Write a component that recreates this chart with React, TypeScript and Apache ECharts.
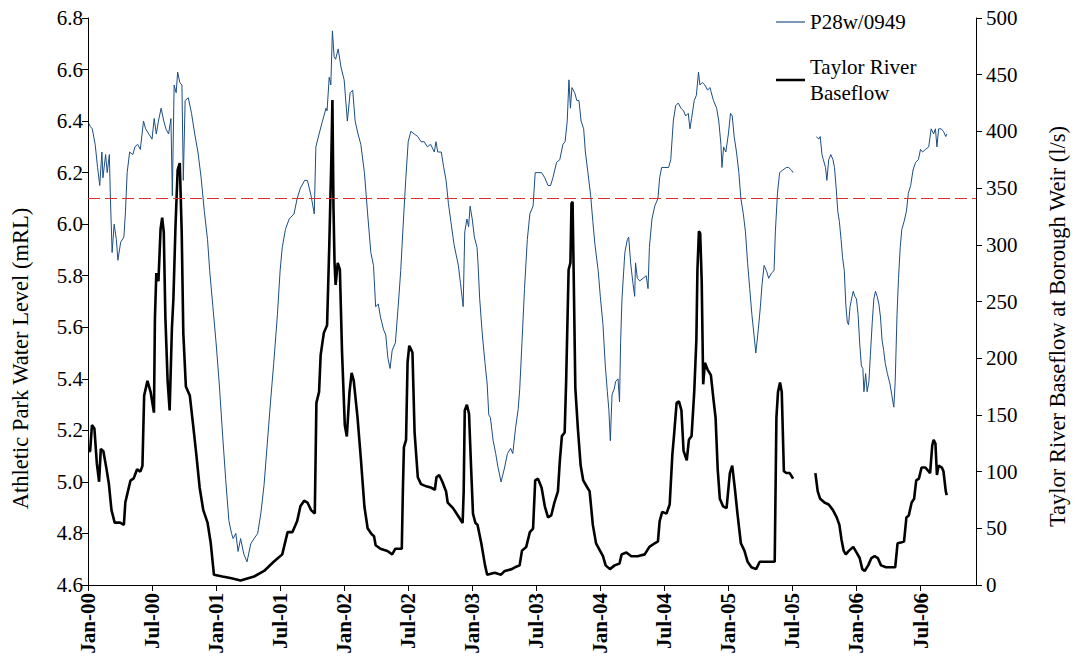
import React, { useEffect, useRef } from "react";
import * as echarts from "echarts";

// Time is expressed in months since Jan 2000; null marks a break in the record.
const xTickLabels = [
  "Jan-00", "Jul-00", "Jan-01", "Jul-01", "Jan-02", "Jul-02", "Jan-03",
  "Jul-03", "Jan-04", "Jul-04", "Jan-05", "Jul-05", "Jan-06", "Jul-06",
];

const levelMonths = [
  0.1, 0.2, 0.4, 0.67, 0.9, 1.1, 1.3, 1.4, 1.65, 1.8, 2.0, 2.1, 2.26, 2.45, 2.66, 2.8, 3.06, 3.36, 3.5, 3.67,
  3.9, 4.2, 4.4, 4.65, 4.9, 5.2, 5.4, 5.7, 6.0, 6.2, 6.4, 6.6, 6.85, 7.1, 7.3, 7.55, 7.77, 7.9, 8.07, 8.26,
  8.4, 8.6, 8.8, 8.93, 9.1, 9.4, 9.7, 10.0, 10.3, 10.6, 10.9, 11.2, 11.4, 11.7, 12.0, 12.3, 12.6, 12.9, 13.2, 13.45,
  13.6, 13.85, 14.06, 14.3, 14.6, 14.9, 15.25, 15.56, 15.9, 16.2, 16.5, 16.8, 17.1, 17.4, 17.75, 18.0, 18.2, 18.5, 18.85, 19.3,
  19.6, 19.9, 20.3, 20.56, 20.9, 21.2, 21.35, 21.65, 21.97, 22.3, 22.4, 22.6, 22.75, 22.9, 23.06, 23.2, 23.44, 23.7, 24.0, 24.3,
  24.56, 24.8, 25.03, 25.3, 25.56, 25.9, 26.2, 26.5, 26.75, 26.95, 27.2, 27.4, 27.7, 27.9, 28.1, 28.3, 28.5, 28.8, 29.06, 29.3,
  29.56, 29.78, 30.0, 30.25, 30.57, 30.9, 31.2, 31.5, 31.8, 32.1, 32.45, 32.6, 32.77, 33.1, 33.33, 33.55, 33.77, 34.0, 34.3, 34.5,
  34.7, 34.9, 35.15, 35.3, 35.5, 35.66, 35.8, 36.0, 36.2, 36.45, 36.54, 36.7, 36.95, 37.2, 37.4, 37.55, 37.7, 37.96, 38.2, 38.4,
  38.7, 39.0, 39.3, 39.6, 39.8, 40.06, 40.3, 40.45, 40.66, 40.9, 41.16, 41.4, 41.7, 41.9, 42.16, 42.5, 42.8, 43.1, 43.34, 43.56,
  43.9, 44.2, 44.5, 44.7, 44.9, 45.06, 45.2, 45.34, 45.6, 45.8, 46.0, 46.2, 46.44, 46.6, 46.84, 47.1, 47.3, 47.5, 47.8, 48.0,
  48.25, 48.47, 48.66, 48.8, 48.94, 49.1, 49.3, 49.44, 49.66, 49.8, 49.9, 50.03, 50.3, 50.53, 50.66, 50.84, 51.06, 51.22, 51.3, 51.47,
  51.7, 52.0, 52.3, 52.47, 52.6, 52.84, 53.1, 53.4, 53.56, 53.75, 54.06, 54.4, 54.6, 54.84, 55.06, 55.3, 55.56, 55.8, 56.0, 56.24,
  56.4, 56.55, 56.8, 57.0, 57.2, 57.33, 57.55, 57.8, 58.05, 58.27, 58.6, 58.9, 59.1, 59.3, 59.4, 59.55, 59.76, 60.0, 60.2, 60.36,
  60.54, 60.76, 60.98, 61.17, 61.4, 61.6, 61.8, 62.0, 62.2, 62.4, 62.57, 62.8, 63.0, 63.16, 63.35, 63.56, 63.78, 64.03, 64.28, 64.4,
  64.6, 64.8, 65.1, 65.43, 65.65, 65.9, 66.06, 67.0, 68.25, 68.46, 68.6, 68.77, 68.9, 69.1, 69.23, 69.4, 69.6, 69.8, 69.94, 70.1,
  70.25, 70.4, 70.56, 70.7, 70.86, 71.0, 71.14, 71.26, 71.4, 71.54, 71.7, 71.85, 72.0, 72.15, 72.3, 72.46, 72.6, 72.7, 72.86, 73.0,
  73.17, 73.3, 73.48, 73.63, 73.78, 73.94, 74.1, 74.25, 74.4, 74.55, 74.7, 74.9, 75.14, 75.3, 75.5, 75.63, 75.8, 75.94, 76.1, 76.25,
  76.46, 76.68, 76.86, 77.08, 77.3, 77.54, 77.8, 78.0, 78.2, 78.46, 78.77, 79.0, 79.23, 79.4, 79.54, 79.7, 79.94, 80.15, 80.37, 80.46,
];

const levelValues = [
  6.39, 6.38, 6.37, 6.31, 6.22, 6.15, 6.28, 6.18, 6.27, 6.2, 6.27, 6.1, 5.89, 6.0, 5.94, 5.86, 5.93, 5.95, 6.04, 6.2,
  6.28, 6.27, 6.3, 6.31, 6.29, 6.4, 6.37, 6.35, 6.33, 6.41, 6.35, 6.4, 6.45, 6.4, 6.37, 6.35, 6.41, 6.11, 6.54, 6.51,
  6.59, 6.55, 6.54, 6.17, 6.48, 6.49, 6.43, 6.35, 6.28, 6.18, 6.05, 5.94, 5.82, 5.68, 5.54, 5.38, 5.19, 5.01, 4.85, 4.8,
  4.78, 4.8, 4.73, 4.78, 4.72, 4.69, 4.76, 4.78, 4.8, 4.88, 4.99, 5.15, 5.31, 5.46, 5.65, 5.82, 5.91, 5.98, 6.02, 6.04,
  6.1, 6.14, 6.17, 6.17, 6.11, 6.04, 6.3, 6.35, 6.4, 6.45, 6.44, 6.57, 6.54, 6.75, 6.65, 6.64, 6.68, 6.61, 6.56, 6.4,
  6.51, 6.52, 6.4, 6.35, 6.31, 6.2, 6.04, 5.89, 5.84, 5.68, 5.69, 5.64, 5.59, 5.57, 5.48, 5.44, 5.51, 5.54, 5.68, 5.82,
  6.02, 6.18, 6.32, 6.36, 6.35, 6.34, 6.32, 6.32, 6.3, 6.31, 6.28, 6.32, 6.28, 6.28, 6.22, 6.17, 6.08, 6.01, 5.92, 5.88,
  5.84, 5.77, 5.68, 5.97, 6.02, 5.99, 6.07, 6.02, 5.95, 5.91, 5.85, 5.71, 5.57, 5.46, 5.38, 5.26, 5.25, 5.16, 5.11, 5.06,
  5.0, 5.05, 5.11, 5.13, 5.11, 5.21, 5.28, 5.36, 5.54, 5.75, 5.94, 6.04, 6.07, 6.2, 6.2, 6.2, 6.18, 6.15, 6.15, 6.18,
  6.24, 6.25, 6.31, 6.32, 6.4, 6.56, 6.45, 6.53, 6.51, 6.48, 6.48, 6.4, 6.37, 6.28, 6.2, 6.11, 6.01, 5.92, 5.82, 5.72,
  5.61, 5.45, 5.35, 5.28, 5.16, 5.34, 5.36, 5.39, 5.4, 5.31, 5.54, 5.71, 5.89, 5.94, 5.95, 5.85, 5.77, 5.72, 5.85, 5.79,
  5.78, 5.79, 5.8, 5.75, 5.91, 6.02, 6.07, 6.1, 6.18, 6.22, 6.22, 6.22, 6.25, 6.4, 6.46, 6.47, 6.45, 6.44, 6.42, 6.43,
  6.37, 6.41, 6.48, 6.5, 6.59, 6.54, 6.55, 6.54, 6.52, 6.53, 6.48, 6.45, 6.4, 6.31, 6.22, 6.3, 6.28, 6.35, 6.43, 6.42,
  6.34, 6.28, 6.2, 6.1, 6.04, 5.97, 5.85, 5.75, 5.65, 5.57, 5.5, 5.59, 5.68, 5.77, 5.84, 5.82, 5.79, 5.81, 5.82, 5.97,
  6.12, 6.2, 6.21, 6.22, 6.22, 6.21, 6.2, null, 6.34, 6.33, 6.34, 6.27, 6.25, 6.22, 6.17, 6.25, 6.27, 6.25, 6.22, 6.14,
  6.05, 6.01, 5.94, 5.87, 5.82, 5.69, 5.62, 5.61, 5.68, 5.71, 5.74, 5.72, 5.71, 5.65, 5.54, 5.45, 5.44, 5.35, 5.42, 5.35,
  5.39, 5.49, 5.62, 5.71, 5.74, 5.72, 5.69, 5.64, 5.55, 5.51, 5.46, 5.42, 5.38, 5.34, 5.29, 5.39, 5.65, 5.79, 5.91, 5.98,
  6.01, 6.05, 6.12, 6.15, 6.21, 6.24, 6.25, 6.29, 6.28, 6.29, 6.3, 6.37, 6.35, 6.37, 6.3, 6.37, 6.37, 6.36, 6.34, 6.35,
];

const flowMonths = [
  0.1, 0.2, 0.37, 0.6, 0.83, 1.04, 1.2, 1.44, 1.74, 1.96, 2.2, 2.5, 3.0, 3.36, 3.5, 3.7, 3.98, 4.28, 4.6, 4.9,
  5.1, 5.26, 5.57, 5.87, 6.18, 6.27, 6.4, 6.6, 6.8, 6.95, 7.1, 7.25, 7.46, 7.65, 7.86, 8.0, 8.2, 8.4, 8.6, 8.78,
  8.93, 9.17, 9.54, 9.85, 10.15, 10.46, 10.8, 11.2, 11.5, 11.8, 12.6, 13.45, 14.3, 15.56, 16.5, 17.4, 18.2, 18.7, 19.15, 19.6,
  19.9, 20.25, 20.56, 20.9, 21.25, 21.4, 21.65, 21.8, 22.1, 22.4, 22.6, 22.8, 22.9, 23.0, 23.1, 23.2, 23.4, 23.6, 23.8, 24.06,
  24.25, 24.5, 24.7, 24.9, 25.25, 25.56, 25.9, 26.2, 26.56, 26.8, 26.95, 27.4, 28.05, 28.5, 28.8, 29.4, 29.5, 29.6, 29.8, 29.94,
  30.1, 30.25, 30.4, 30.6, 30.9, 31.2, 31.7, 32.1, 32.5, 32.65, 32.9, 33.2, 33.55, 33.7, 34.2, 34.65, 35.1, 35.2, 35.3, 35.5,
  35.7, 35.9, 36.07, 36.3, 36.5, 36.85, 37.2, 37.4, 38.1, 38.7, 39.05, 39.7, 40.0, 40.44, 40.66, 41.06, 41.4, 41.7, 41.9, 42.16,
  42.5, 42.8, 43.1, 43.4, 43.7, 44.03, 44.2, 44.4, 44.66, 44.8, 45.03, 45.2, 45.3, 45.4, 45.5, 45.66, 45.9, 46.16, 46.4, 46.7,
  47.0, 47.3, 47.6, 47.97, 48.25, 48.5, 48.9, 49.34, 49.8, 50.0, 50.44, 50.9, 51.5, 52.16, 52.6, 53.1, 53.4, 53.56, 53.8, 54.2,
  54.5, 54.75, 54.9, 55.15, 55.37, 55.6, 55.8, 56.1, 56.3, 56.55, 56.8, 57.0, 57.1, 57.24, 57.36, 57.5, 57.64, 57.8, 58.05, 58.36,
  58.6, 58.8, 59.0, 59.2, 59.5, 59.83, 60.14, 60.36, 60.6, 60.85, 61.17, 61.5, 61.8, 62.16, 62.6, 62.94, 64.34, 64.5, 64.65, 64.84,
  65.0, 65.2, 65.43, 65.75, 66.06, 67.0, 68.15, 68.37, 68.6, 69.0, 69.4, 69.8, 70.15, 70.4, 70.6, 70.8, 71.0, 71.3, 71.7, 72.0,
  72.3, 72.55, 72.77, 73.1, 73.4, 73.7, 74.0, 74.3, 74.77, 75.63, 75.85, 76.15, 76.46, 76.68, 76.9, 77.17, 77.4, 77.6, 77.85, 78.1,
  78.46, 78.9, 79.1, 79.23, 79.4, 79.54, 79.7, 80.0, 80.15, 80.37, 80.46,
];

const flowValues = [
  118, 118, 141, 138, 107, 91, 120, 118, 102, 89, 66, 55, 55, 53, 73, 81, 92, 94, 102, 100,
  105, 167, 180, 170, 152, 235, 275, 268, 314, 324, 311, 236, 180, 154, 226, 252, 317, 366, 372, 311,
  222, 175, 167, 141, 115, 86, 66, 55, 37, 9, 7.5, 6, 4, 7.5, 12.4, 20.5, 27, 46.6, 46.6, 56.4,
  69.4, 74.3, 72.7, 66, 63, 160.6, 170.3, 202.9, 222.5, 229, 297, 375.6, 427.7, 333, 284, 264.6, 284, 278, 206, 141,
  131, 170, 187, 180, 148, 112, 69, 50, 45, 43, 35, 32, 30, 27, 32, 32, 82.5, 121.6, 128, 196,
  211, 208, 205, 134.5, 95, 89, 87, 86, 84, 95, 97, 91, 82.5, 72.7, 67.8, 61.3, 54.7, 82.5, 154, 159,
  151, 102, 63, 54.7, 53, 36.8, 17.3, 9.1, 10.8, 9.1, 12.4, 14, 15.6, 17.3, 30.3, 33.6, 46.6, 49.8, 92.2, 93.8,
  85.7, 69.4, 59.6, 61.3, 72.7, 82.5, 108.5, 131.3, 134.5, 180, 278, 284, 336.5, 338, 278, 173.6, 137.8, 105.3, 92.2, 87.3,
  82.5, 53, 36.8, 30.3, 25.4, 17.3, 14, 17.3, 18.9, 27, 28.7, 25.4, 25.4, 27, 33.6, 36.8, 38.4, 56.4, 64.5, 62.9,
  71, 115, 131.3, 160.6, 162, 154, 118.3, 110, 128, 131.3, 170.3, 216, 278, 312, 310, 268, 177, 196, 190, 185,
  164, 147.6, 102, 76, 69.4, 67.8, 98.7, 105.3, 85.7, 63, 36.8, 30.3, 20.5, 15.6, 14, 20.5, 20.5, 147.6, 170.3, 178.5,
  170.3, 100.3, 98.7, 98.7, 93.8, null, 98.7, 82.5, 76, 72.7, 71, 66, 59.6, 53, 40, 30.3, 27, 30.3, 33.6, 28.7,
  23.8, 14, 12.4, 17.3, 23.8, 25.4, 23.8, 17.3, 15.6, 15.6, 36.8, 37.5, 38.4, 59.6, 61.3, 72.7, 76, 92.2, 93.8, 103.6,
  103.6, 98.7, 123, 128, 124.8, 97, 105.3, 103.6, 100.3, 82.5, 79.3,
];

// Trigger level drawn as a dashed reference line on the water-level axis.
const triggerLevel = 6.1;

const FONT = "'Liberation Serif', 'Times New Roman', serif";
const LEVEL_COLOR = "#1c4d85";
const FLOW_COLOR = "#000000";

function pairs(xs: number[], ys: (number | null)[]) {
  return xs.map((x, i) => [x, ys[i] === null ? "-" : ys[i]]);
}

export default function App() {
  const ref = useRef<HTMLDivElement>(null);

  useEffect(() => {
    if (!ref.current) return;
    const chart = echarts.init(ref.current, null, { renderer: "svg" });

    const axisLine = { show: true, lineStyle: { color: "#000", width: 1 } };
    const axisTick = { show: true, inside: false, length: 6, lineStyle: { color: "#000" } };

    chart.setOption({
      animation: false,
      backgroundColor: "#fff",
      textStyle: { fontFamily: FONT },
      grid: { left: 88, right: 92, top: 18, bottom: 76, containLabel: false },
      legend: {
        orient: "vertical",
        left: 771,
        top: 4,
        itemWidth: 29,
        itemHeight: 14,
        itemGap: 6,
        textStyle: { fontFamily: FONT, fontSize: 21, color: "#000", lineHeight: 26 },
        formatter: (name: string) => (name === "Taylor River Baseflow" ? "Taylor River\nBaseflow" : name),
        data: [
          { name: "P28w/0949", icon: "path://M0,0H30V1.2H0Z" },
          {
            name: "Taylor River Baseflow",
            icon: "path://M0,0H30V2.6H0Z",
            textStyle: { padding: [26, 0, 0, 0] },
          },
        ],
      },
      xAxis: {
        type: "value",
        min: 0,
        max: 83.2,
        interval: 6,
        axisLine,
        axisTick,
        splitLine: { show: false },
        axisLabel: {
          rotate: 90,
          margin: 8,
          fontFamily: FONT,
          fontSize: 21,
          fontWeight: "bold",
          color: "#000",
          showMaxLabel: false,
          formatter: (v: number) => {
            const i = Math.round(v / 6);
            return Math.abs(v - i * 6) < 1e-6 && xTickLabels[i] ? xTickLabels[i] : "";
          },
        },
      },
      yAxis: [
        {
          type: "value",
          position: "left",
          min: 4.6,
          max: 6.8,
          interval: 0.2,
          axisLine,
          axisTick,
          splitLine: { show: false },
          axisLabel: {
            margin: 5,
            fontFamily: FONT,
            fontSize: 21,
            color: "#000",
            formatter: (v: number) => v.toFixed(1),
          },
          name: "Athletic Park Water Level (mRL)",
          nameLocation: "middle",
          nameGap: 56,
          nameTextStyle: {
            fontFamily: FONT,
            fontSize: 22.5,
            color: "#000",
            padding: [0, 114, 0, 0],
          },
        },
        {
          type: "value",
          position: "right",
          min: 0,
          max: 500,
          interval: 50,
          axisLine,
          axisTick,
          splitLine: { show: false },
          axisLabel: { margin: 10, fontFamily: FONT, fontSize: 21, color: "#000" },
          name: "Taylor River Baseflow at Borough Weir (l/s)",
          nameLocation: "middle",
          nameGap: 70,
          nameRotate: 90,
          nameTextStyle: {
            fontFamily: FONT,
            fontSize: 22.5,
            color: "#000",
            padding: [0, 50, 0, 0],
          },
        },
      ],
      series: [
        {
          name: "P28w/0949",
          type: "line",
          yAxisIndex: 0,
          data: pairs(levelMonths, levelValues),
          symbol: "none",
          showSymbol: false,
          connectNulls: false,
          lineStyle: { color: LEVEL_COLOR, width: 1 },
          itemStyle: { color: LEVEL_COLOR },
          z: 2,
          markLine: {
            silent: true,
            symbol: "none",
            label: { show: false },
            lineStyle: { color: "#d9302e", type: [12, 5], width: 1.2 },
            data: [{ yAxis: triggerLevel }],
          },
        },
        {
          name: "Taylor River Baseflow",
          type: "line",
          yAxisIndex: 1,
          data: pairs(flowMonths, flowValues),
          symbol: "none",
          showSymbol: false,
          connectNulls: false,
          lineStyle: { color: FLOW_COLOR, width: 2.6 },
          itemStyle: { color: FLOW_COLOR },
          z: 3,
        },
      ],
    });

    return () => chart.dispose();
  }, []);

  return (
    <div
      ref={ref}
      style={{ position: "absolute", left: 0, top: 0, width: 1077, height: 661, background: "#fff" }}
    />
  );
}
